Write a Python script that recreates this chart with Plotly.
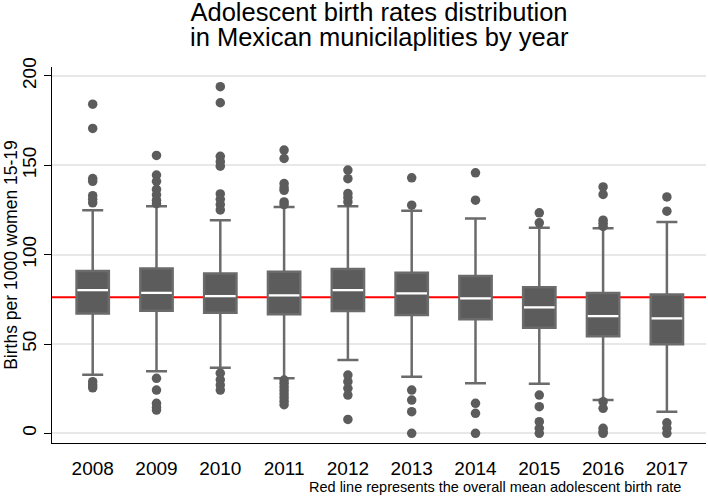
import plotly.graph_objects as go

years = ["2008", "2009", "2010", "2011", "2012", "2013", "2014", "2015", "2016", "2017"]
q1 = [67.1, 68.6, 67.5, 66.6, 68.4, 66.2, 63.8, 59.1, 54.4, 49.8]
medians = [80.1, 78.6, 76.8, 77.2, 80.1, 78.3, 75.5, 70.5, 65.6, 64.3]
q3 = [90.9, 92.3, 89.5, 90.4, 91.9, 89.8, 88.1, 81.7, 78.5, 77.7]
lower_whisker = [32.8, 34.8, 36.7, 30.8, 41.0, 31.7, 28.0, 27.7, 18.6, 12.1]
upper_whisker = [124.9, 127.1, 119.3, 126.7, 127.1, 124.5, 120.2, 115.0, 114.7, 118.3]

outliers_2008 = [184.2, 170.6, 142.6, 141.0, 133.0, 131.0, 129.0, 28.9, 27.0, 25.5]
outliers_2009 = [155.5, 144.5, 141.0, 136.5, 133.5, 130.5, 128.5, 30.8, 24.2, 16.8, 14.5, 13.0]
outliers_2010 = [194.0, 185.0, 155.0, 152.0, 149.5, 134.0, 131.0, 128.0, 125.0, 33.7, 30.0, 27.0, 24.2]
outliers_2011 = [158.5, 153.8, 139.8, 137.5, 136.0, 129.5, 128.0, 29.8, 28.0, 26.0, 24.0, 22.0, 20.0, 18.0, 16.0]
outliers_2012 = [147.3, 142.5, 134.2, 132.0, 129.5, 32.6, 28.9, 25.2, 21.4, 7.8]
outliers_2013 = [143.0, 127.7, 24.2, 18.6, 12.1, 0.0]
outliers_2014 = [145.8, 130.5, 16.8, 11.2, 0.0]
outliers_2015 = [123.4, 117.8, 21.4, 14.9, 6.5, 2.8, 0.0]
outliers_2016 = [137.9, 133.7, 119.3, 117.5, 115.8, 17.7, 14.0, 2.8, 1.0, 0.0]
outliers_2017 = [132.3, 124.3, 5.9, 2.8, 0.0]
outliers = [outliers_2008, outliers_2009, outliers_2010, outliers_2011, outliers_2012,
            outliers_2013, outliers_2014, outliers_2015, outliers_2016, outliers_2017]

overall_mean = 76.1
y_ticks = [0, 50, 100, 150, 200]

title_line1 = "Adolescent birth rates distribution"
title_line2 = "in Mexican municilaplities by year"
note_text = "Red line represents the overall mean adolescent birth rate"
y_title = "Births per 1000 women 15-19"

FONT = "Liberation Sans, Arial, Helvetica, sans-serif"
BOX_FILL = "#5c5c5c"
LINE_GREY = "#6b6b6b"

fig = go.Figure()

fig.add_trace(go.Box(
    x=years, q1=q1, median=medians, q3=q3,
    lowerfence=lower_whisker, upperfence=upper_whisker,
    fillcolor=BOX_FILL, line=dict(color=LINE_GREY, width=2.5),
    width=0.506, whiskerwidth=0.65, boxpoints=False,
    showlegend=False, hoverinfo="skip",
))

# white median line
fig.add_trace(go.Box(
    x=years, q1=medians, median=medians, q3=medians,
    lowerfence=medians, upperfence=medians,
    fillcolor="rgba(0,0,0,0)", line=dict(color="white", width=2.2),
    width=0.48, whiskerwidth=0.0, boxpoints=False,
    showlegend=False, hoverinfo="skip",
))

ox, oy = [], []
for yr, vals in zip(years, outliers):
    ox += [yr] * len(vals)
    oy += vals
fig.add_trace(go.Scatter(
    x=ox, y=oy, mode="markers",
    marker=dict(color=BOX_FILL, size=9.5, line=dict(width=0)),
    showlegend=False, hoverinfo="skip",
))

fig.add_shape(type="line", xref="paper", x0=0, x1=1, yref="y",
              y0=overall_mean, y1=overall_mean,
              line=dict(color="#ff0000", width=2), layer="below")

fig.update_layout(
    width=708, height=500,
    margin=dict(l=52, r=2, t=67, b=57, autoexpand=False),
    paper_bgcolor="white", plot_bgcolor="white",
    font=dict(family=FONT, color="black"),
    title=dict(text=title_line1, x=0.5, xref="paper", xanchor="center",
               yref="container", y=0.975, yanchor="middle",
               font=dict(size=25.5, family=FONT, color="black")),
    boxmode="overlay",
    xaxis=dict(type="category", range=[-0.638, 9.613], showline=True, linecolor="black",
               linewidth=1, ticks="", showgrid=False, tickfont=dict(size=19),
               ticklabelstandoff=8, zeroline=False, automargin=False),
    yaxis=dict(range=[-5.4, 205], tickvals=y_ticks, ticks="outside", ticklen=7,
               tickcolor="black", showline=True, linecolor="black", linewidth=1,
               tickangle=-90, tickfont=dict(size=19), ticklabelstandoff=0,
               showgrid=True, gridcolor="#e8e8e8", gridwidth=1.5, zeroline=False,
               automargin=False),
    annotations=[
        dict(text=title_line2, xref="paper", yref="paper", x=0.5, y=1.081,
             xanchor="center", yanchor="middle", showarrow=False,
             font=dict(size=25.5, family=FONT, color="black")),
        dict(text=y_title, xref="paper", yref="paper", x=-0.063, y=0.5,
             xanchor="center", yanchor="middle", textangle=-90, showarrow=False,
             font=dict(size=17.5, family=FONT, color="black")),
        dict(text=note_text, xref="paper", yref="paper", x=0.965, y=-0.117,
             xanchor="right", yanchor="middle", showarrow=False,
             font=dict(size=14.5, family=FONT, color="black")),
    ],
)

fig.write_html("out.html", config={"displayModeBar": False},
               post_script="document.body.style.margin='0px';")
